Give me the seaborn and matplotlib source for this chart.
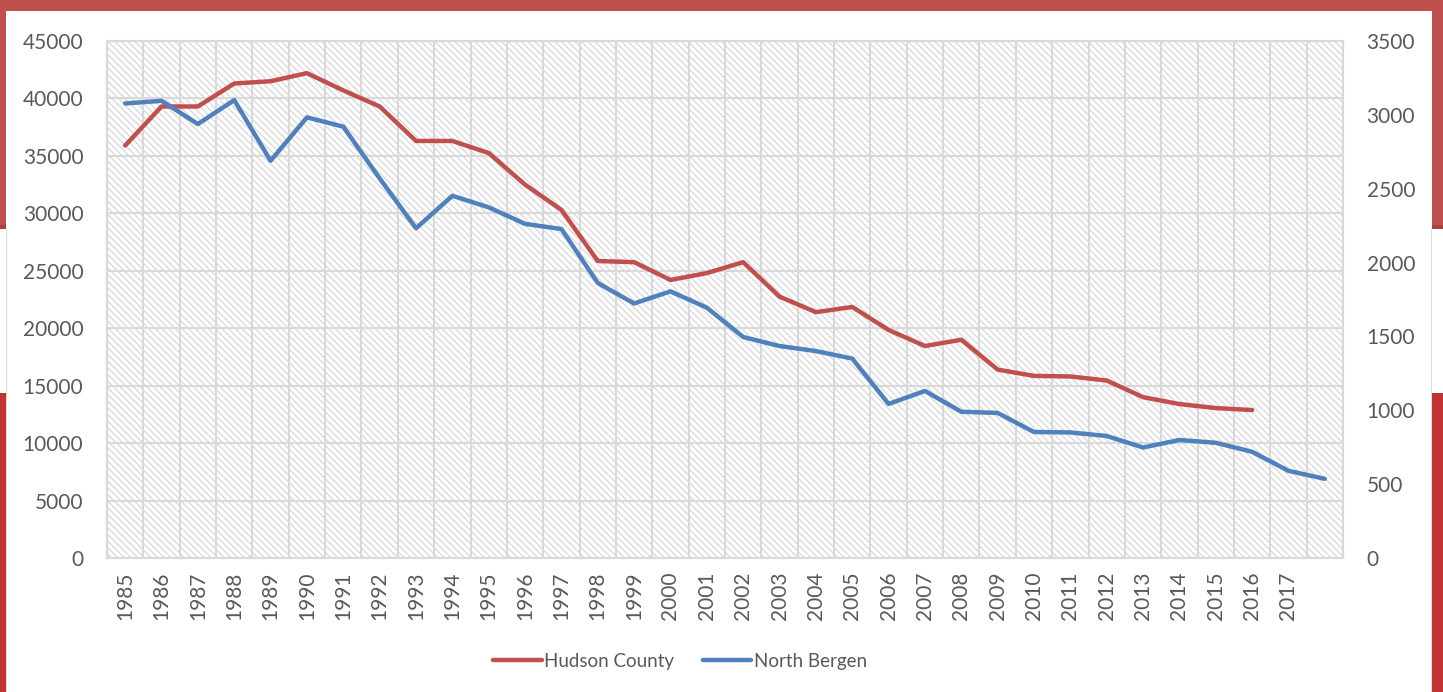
import matplotlib.pyplot as plt
import matplotlib.patches as mpatches
import seaborn as sns

sns.set_style("white")
plt.rcParams['font.family'] = ['Lato', 'DejaVu Sans']
plt.rcParams['hatch.linewidth'] = 0.9

# data
years = list(range(1985, 2019))
year_labels = [str(y) for y in range(1985, 2018)] + ['']
hudson = [35900, 39300, 39300, 41300, 41500, 42200, 40700, 39300, 36300, 36300,
          35250, 32500, 30300, 25850, 25750, 24200, 24800, 25750, 22750, 21400,
          21850, 19850, 18450, 19000, 16400, 15850, 15800, 15450, 14000, 13400,
          13050, 12880]
north_bergen = [3077, 3095, 2938, 3100, 2689, 2983, 2920, 2570, 2232, 2452,
                2374, 2262, 2227, 1862, 1723, 1805, 1695, 1496, 1435, 1401,
                1350, 1043, 1131, 990, 982, 853, 850, 826, 748, 799,
                780, 719, 590, 536]

red = '#C0504D'
blue = '#4F81BD'
grid = '#D9D9D9'
txt = '#595959'

W, H = 1443, 692
fig = plt.figure(figsize=(W / 100, H / 100), dpi=100)
fig.patch.set_facecolor('white')

# decorative frame behind the chart panel
def px_rect(x0, y0, x1, y1, color, z=0):
    fig.add_artist(mpatches.Rectangle((x0 / W, 1 - y1 / H), (x1 - x0) / W, (y1 - y0) / H,
                                      transform=fig.transFigure, facecolor=color,
                                      edgecolor='none', zorder=z))

px_rect(0, 0, W, 11, red)
px_rect(0, 0, 6, 227, red)
px_rect(1432, 0, W, 227, red)
px_rect(0, 225, 6, 229, '#A8403D')
px_rect(1432, 225, W, 229, '#A8403D')
px_rect(0, 393, 6, H, '#C23434')
px_rect(1432, 393, W, H, '#C23434')
px_rect(6, 229, 7, H, grid)
px_rect(1431, 229, 1432, H, grid)

ax = fig.add_axes([107 / W, 1 - 558 / H, (1343 - 107) / W, (558 - 41) / H])
ax2 = ax.twinx()

# hatched plot area
ax.add_patch(mpatches.Rectangle((0, 0), 1, 1, transform=ax.transAxes, facecolor='white',
                                edgecolor='#D8D8D8', linewidth=0, hatch='\\' * 5, zorder=0.1))

sns.lineplot(x=years[:len(hudson)], y=hudson, ax=ax, color=red, linewidth=3.2,
             label='Hudson County', legend=False)
sns.lineplot(x=years, y=north_bergen, ax=ax2, color=blue, linewidth=3.2,
             label='North Bergen', legend=False)

ax.set_xlim(1984.5, 2018.5)
ax.set_ylim(0, 45000)
ax2.set_ylim(0, 3500)
ax.set_yticks(range(0, 45001, 5000))
ax2.set_yticks(range(0, 3501, 500))
ax.set_xticks(years)
ax.set_xticklabels(year_labels, rotation=90)
ax.set_xticks([y - 0.5 for y in years] + [2018.5], minor=True)

ax.set_axisbelow(True)
ax.grid(axis='y', which='major', color=grid, linewidth=1.5, zorder=0.5)
ax.grid(axis='x', which='minor', color=grid, linewidth=1.5, zorder=0.5)
ax.grid(axis='x', which='major', visible=False)

ax.tick_params(axis='x', which='major', length=0, pad=10, labelsize=15, labelcolor=txt)
ax.tick_params(axis='x', which='minor', length=6, width=1.5, color=grid)
ax.tick_params(axis='y', length=0, pad=17, labelsize=15, labelcolor=txt)
ax2.tick_params(axis='y', which='major', length=0, pad=17, labelsize=15, labelcolor=txt)
for t in ax2.yaxis.get_major_ticks():
    t.set_pad(17)
ax.set_xlabel('')
ax.set_ylabel('')
ax2.set_ylabel('')

for a in (ax, ax2):
    for s in a.spines.values():
        s.set_color(grid)
        s.set_linewidth(1.5)

h1, l1 = ax.get_legend_handles_labels()
h2, l2 = ax2.get_legend_handles_labels()
fig.legend(h1 + h2, l1 + l2, loc='center', bbox_to_anchor=(680 / W, 1 - 661 / H), ncol=2,
           frameon=False, fontsize=13.5, labelcolor=txt, handlelength=2.6,
           handletextpad=0.15, columnspacing=1.5)

fig.savefig('out.png', dpi=100)
